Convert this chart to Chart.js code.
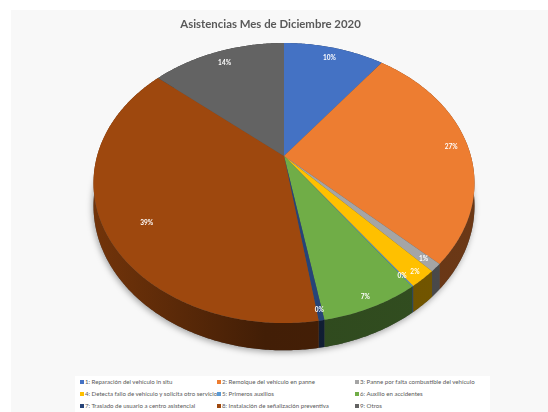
<!DOCTYPE html>
<html>
<head>
<meta charset="utf-8">
<script src="https://cdn.jsdelivr.net/npm/chart.js@4"></script>
<style>
    html, body { margin: 0; padding: 0; background: #fff; }
    #wrap { position: relative; width: 548px; height: 412px; overflow: hidden; filter: blur(0.4px); }
    #panel { position: absolute; left: 11px; top: 10px; right: 0; bottom: 0; background: #f8f8f8; }
    #pie { position: absolute; left: 0; top: 0; }
    #title { position: absolute; left: 0; width: 541px; top: 17px; text-align: center; font: 700 11.4px Lato, sans-serif; color: #595959; }
    #legendBox { position: absolute; left: 75px; top: 376px; width: 415px; height: 36px; background: #fff; }
    .item { position: absolute; font: 6.1px Lato, sans-serif; color: #595959; white-space: nowrap; line-height: 10px; }
    .item i { display: inline-block; width: 3.5px; height: 3.5px; margin-right: 1.5px; vertical-align: 0.5px; }
</style>
</head>
<body>
<div id="wrap">
    <div id="panel"></div>
    <canvas id="pie" width="548" height="412"></canvas>
    <div id="title">Asistencias Mes de Diciembre 2020</div>
    <div id="legendBox"></div>
</div>
<script>
const categories = [
    '1: Reparación del vehículo in situ',
    '2: Remolque del vehículo en panne',
    '3: Panne por falta combustible del vehículo',
    '4: Detecta fallo de vehículo y solicita otro servicio',
    '5: Primeros auxilios',
    '6: Auxilio en accidentes',
    '7: Traslado de usuario a centro asistencial',
    '8: Instalación de señalización preventiva',
    '9: Otros'
];
const shares = [10.3, 26.9, 0.9, 2.0, 0.1, 7.0, 0.4, 38.7, 13.7];
const sliceColors = ['#4472c4', '#ed7d31', '#a5a5a5', '#ffc000', '#5b9bd5', '#70ad47', '#264478', '#9e480e', '#636363'];

// where each % sits along its radius, and how far it turns off the slice middle
const labelRadius = [0.89, 0.91, 0.93, 0.95, 0.93, 0.94, 0.95, 0.81, 0.88];
const labelTurn = [0, 0, 0, 0, 0, 0, 0, -0.09, 0];

// legend columns, as laid out in the original
const legendX = [80, 217, 355];
const legendY = [377, 389, 401];

// perspective of the tilted pie
const TILT = 0.7212;    // vertical squash
const PERSP = 0.193;    // the near side looks bigger
const DEPTH = 22;       // height of the side wall

function project(el, r, angle) {
    const u = r * Math.cos(angle);
    const v = -r * Math.sin(angle);
    const w = 1 + PERSP * v;
    return {
        x: el.x + el.outerRadius * u / w,
        y: el.y - el.outerRadius * TILT * v / w,
        w: w
    };
}

function shade(hex, f) {
    const n = parseInt(hex.slice(1), 16);
    const r = Math.round((n >> 16 & 255) * f);
    const g = Math.round((n >> 8 & 255) * f);
    const b = Math.round((n & 255) * f);
    return `rgb(${r},${g},${b})`;
}

function rimPoints(el) {
    const pts = [];
    const steps = Math.max(2, Math.ceil((el.endAngle - el.startAngle) / 0.01));
    for (let i = 0; i <= steps; i++) {
        const a = el.startAngle + (el.endAngle - el.startAngle) * i / steps;
        pts.push(project(el, 1, a));
    }
    return pts;
}

const tiltedPie = {
    id: 'tiltedPie',
    beforeDatasetsDraw(chart) {
        const ctx = chart.ctx;
        const arcs = chart.getDatasetMeta(0).data;
        const left = arcs[0].x - arcs[0].outerRadius * 1.02;
        const right = arcs[0].x + arcs[0].outerRadius * 1.02;
        ctx.save();

        // soft shadow under the whole pie
        ctx.save();
        ctx.shadowColor = 'rgba(0,0,0,0.35)';
        ctx.shadowBlur = 6;
        ctx.shadowOffsetX = -1;
        ctx.shadowOffsetY = 2;
        ctx.fillStyle = '#555';
        ctx.beginPath();
        arcs.forEach(el => rimPoints(el).forEach(p => ctx.lineTo(p.x, p.y + DEPTH / p.w)));
        ctx.closePath();
        ctx.fill();
        ctx.restore();

        // side wall, lighter towards the left
        arcs.forEach((el, i) => {
            const grad = ctx.createLinearGradient(left, 0, right, 0);
            grad.addColorStop(0, shade(sliceColors[i], 0.72));
            grad.addColorStop(0.45, shade(sliceColors[i], 0.42));
            grad.addColorStop(1, shade(sliceColors[i], 0.45));
            const pts = rimPoints(el);
            ctx.fillStyle = grad;
            ctx.beginPath();
            pts.forEach(p => ctx.lineTo(p.x, p.y));
            pts.slice().reverse().forEach(p => ctx.lineTo(p.x, p.y + DEPTH / p.w));
            ctx.closePath();
            ctx.fill();
        });

        // top face
        arcs.forEach((el, i) => {
            ctx.fillStyle = sliceColors[i];
            ctx.beginPath();
            ctx.moveTo(el.x, el.y);
            rimPoints(el).forEach(p => ctx.lineTo(p.x, p.y));
            ctx.closePath();
            ctx.fill();
        });

        // percentages
        ctx.fillStyle = '#fff';
        ctx.font = '700 6.5px Lato, sans-serif';
        ctx.textAlign = 'center';
        ctx.textBaseline = 'middle';
        arcs.forEach((el, i) => {
            const p = project(el, labelRadius[i], (el.startAngle + el.endAngle) / 2 + labelTurn[i]);
            ctx.fillText(Math.round(shares[i]) + '%', p.x, p.y);
        });

        ctx.restore();
        return false;
    }
};

const wrap = document.getElementById('wrap');
categories.forEach((name, i) => {
    const item = document.createElement('div');
    item.className = 'item';
    item.style.left = legendX[i % 3] + 'px';
    item.style.top = legendY[Math.floor(i / 3)] + 'px';
    const box = document.createElement('i');
    box.style.background = sliceColors[i];
    item.appendChild(box);
    item.appendChild(document.createTextNode(name));
    wrap.appendChild(item);
});

new Chart(document.getElementById('pie').getContext('2d'), {
    type: 'pie',
    data: {
        labels: categories,
        datasets: [{
            data: shares,
            backgroundColor: sliceColors,
            borderWidth: 0,
            radius: 186.9
        }]
    },
    options: {
        responsive: false,
        animation: false,
        layout: { padding: { left: 20, bottom: 100 } },
        plugins: {
            legend: { display: false },
            title: { display: false },
            tooltip: { enabled: false }
        }
    },
    plugins: [tiltedPie]
});
</script>
</body>
</html>
